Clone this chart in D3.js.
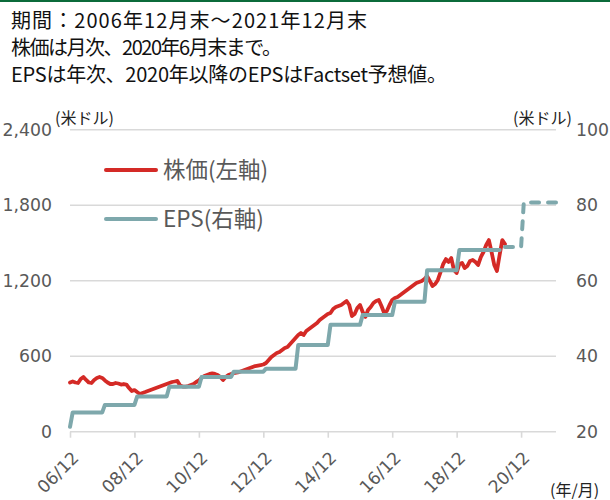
<!DOCTYPE html>
<html><head><meta charset="utf-8">
<script src="https://cdn.jsdelivr.net/npm/d3@7"></script>
<style>
html,body{margin:0;padding:0;background:#fff;}
svg{display:block;}
</style></head>
<body>
<svg id="chart" width="610" height="500"></svg>
<script>
// ---- data ----
const titleLines = [
  "期間：2006年12月末～2021年12月末",
  "株価は月次、2020年6月末まで。",
  "EPSは年次、2020年以降のEPSはFactset予想値。"
];
const titleWidths = [356, 271, 436];
// monthly price, 2006/12 .. 2020/06 (index 0 = 2006/12)
const price = [
  391,399,391,387,419,435,411,391,387,411,427,435,427,407,391,379,379,387,383,375,379,375,347,323,331,
  315,300,308,315,323,331,339,347,355,363,371,379,387,395,399,403,367,359,359,363,371,379,395,407,
  427,443,451,459,463,459,451,435,411,435,451,459,466,470,474,482,490,498,506,514,522,526,530,534,
  546,570,594,610,625,633,649,665,673,697,721,745,768,784,768,800,816,832,848,864,888,904,919,935,
  943,975,991,999,1007,1023,1039,1007,919,935,983,1007,951,912,967,991,1023,1039,1047,999,943,959,1007,1047,
  1063,1070,1086,1102,1118,1134,1150,1166,1182,1190,1198,1214,1237,1198,1158,1174,1206,1269,1333,1372,1349,1380,1285,1261,
  1333,1341,1301,1317,1357,1365,1349,1325,1388,1428,1484,1523,1428,1325,1277,1404,1523,1492
];
const epsYears  = [2006,2007,2008,2009,2010,2011,2012,2013,2014,2015,2016,2017,2018,2019,2020,2021];
const epsValues = [21.3,25.1,27.1,29.3,31.9,34.5,35.9,36.7,43.0,48.3,50.9,54.4,62.8,68.1,68.9,80.7];
const epsForecastFrom = 2020;      // Factset estimates from 2020
const solidEndMonth = 160;         // last month of the solid EPS line
const forecastStartMonth = 162;    // first month of the dashed EPS line (2020/06)
const axisEndMonth = 181;
const xTickMonths = [0,24,48,72,96,120,144,168];
const xTickLabels = ["06/12","08/12","10/12","12/12","14/12","16/12","18/12","20/12"];
const leftTicks  = [0,600,1200,1800,2400];
const rightTicks = [20,40,60,80,100];
const legendItems = ["株価(左軸)","EPS(右軸)"];

// ---- layout ----
const svg = d3.select("#chart");
const red = "#d42a26", teal = "#7ea8ac", grid = "#d9d9d9", txt = "#595959";
const numFont = "'DejaVu Sans', Verdana, sans-serif";
const jpFont = "'Noto Sans CJK JP', sans-serif";

const x = d3.scaleLinear().domain([0, axisEndMonth]).range([70, 556]);
const yL = d3.scaleLinear().domain([0, 2400]).range([431.7, 129.7]);
const yR = d3.scaleLinear().domain([20, 100]).range([431.7, 129.7]);

// top rule
svg.append("rect").attr("x",0).attr("y",0).attr("width",610).attr("height",2).attr("fill","#0b6b3a");

// title (one text block, three lines)
svg.append("text")
  .attr("font-family", jpFont).attr("font-size", 20).attr("fill","#111")
  .selectAll("tspan").data(titleLines).join("tspan")
  .attr("x", 11).attr("y", (d,i)=> 28 + i*27)
  .attr("textLength", (d,i)=>titleWidths[i]).attr("lengthAdjust","spacing")
  .text(d=>d);

// gridlines
svg.append("g").selectAll("line").data(leftTicks).join("line")
  .attr("x1", x(0)).attr("x2", x(axisEndMonth))
  .attr("y1", d=>yL(d)).attr("y2", d=>yL(d))
  .attr("stroke", grid).attr("stroke-width", 1.6);

// left axis
const gl = svg.append("g").attr("transform","translate(52,0)")
  .call(d3.axisLeft(yL).tickValues(leftTicks).tickSize(0).tickPadding(0).tickFormat(d3.format(",")));
gl.select(".domain").remove();
gl.selectAll("text").attr("font-family", numFont).attr("font-size", 17.3).attr("fill", txt);

// right axis
const gr = svg.append("g").attr("transform","translate(576,0)")
  .call(d3.axisRight(yR).tickValues(rightTicks).tickSize(0).tickPadding(0));
gr.select(".domain").remove();
gr.selectAll("text").attr("font-family", numFont).attr("font-size", 17.3).attr("fill", txt);

// bottom axis
const gb = svg.append("g").attr("transform",`translate(0,${yL(0)})`)
  .call(d3.axisBottom(x).tickValues(xTickMonths).tickSize(6).tickFormat((d,i)=>xTickLabels[i]));
gb.select(".domain").remove();
gb.selectAll(".tick line").attr("stroke", grid).attr("stroke-width", 1.6);
gb.selectAll("text")
  .attr("font-family", numFont).attr("font-size", 17.3).attr("fill", txt)
  .attr("text-anchor","end")
  .attr("transform","translate(5,23) rotate(-45)")
  .attr("x",0).attr("y",0).attr("dy","0.35em");

// unit labels
svg.append("text").attr("x",55).attr("y",124).attr("font-family",jpFont).attr("font-size",16).attr("fill","#222").text("(米ドル)");
svg.append("text").attr("x",513).attr("y",124).attr("font-family",jpFont).attr("font-size",16).attr("fill","#222").text("(米ドル)");
svg.append("text").attr("x",550).attr("y",496).attr("font-family",jpFont).attr("font-size",16).attr("fill","#222").text("(年/月)");

// price line
svg.append("path").datum(price)
  .attr("fill","none").attr("stroke",red).attr("stroke-width",3.8)
  .attr("stroke-linejoin","round").attr("stroke-linecap","round")
  .attr("d", d3.line().x((d,i)=>x(i)).y(d=>yL(d)));

// EPS step points built from the annual values
function yearSpan(yr){ // months covered by the fiscal-year value
  if (yr === epsYears[0]) return [0,0];
  return [(yr-2007)*12+1, (yr-2006)*12];
}
const solidPts = [], dashPts = [];
epsYears.forEach((yr,j)=>{
  let [s,e] = yearSpan(yr);
  if (yr < epsForecastFrom) {
    if (j === epsYears.indexOf(epsForecastFrom)-1) e = solidEndMonth;
    solidPts.push([s, epsValues[j]], [e, epsValues[j]]);
  } else {
    if (yr === epsForecastFrom) s = forecastStartMonth;
    if (j === epsYears.length-1) e = axisEndMonth;
    dashPts.push([s, epsValues[j]], [e, epsValues[j]]);
  }
});
const epsLine = d3.line().x(d=>x(d[0])).y(d=>yR(d[1]));
svg.append("path").datum(solidPts)
  .attr("fill","none").attr("stroke",teal).attr("stroke-width",4)
  .attr("stroke-linejoin","round").attr("stroke-linecap","round")
  .attr("d", epsLine);
svg.append("path").datum(dashPts)
  .attr("fill","none").attr("stroke",teal).attr("stroke-width",4)
  .attr("stroke-linejoin","round").attr("stroke-linecap","round")
  .attr("stroke-dasharray","8,9")
  .attr("d", epsLine);

// legend
const lg = svg.append("g");
legendItems.forEach((t,i)=>{
  const yy = 170 + i*49;
  lg.append("line").attr("x1",106).attr("x2",156).attr("y1",yy).attr("y2",yy)
    .attr("stroke", i===0?red:teal).attr("stroke-width",4).attr("stroke-linecap","round");
  lg.append("text").attr("x",163).attr("y",yy).attr("dy","0.35em")
    .attr("font-family",jpFont).attr("font-size",22.5).attr("fill",txt).text(t);
});
</script>
</body></html>
